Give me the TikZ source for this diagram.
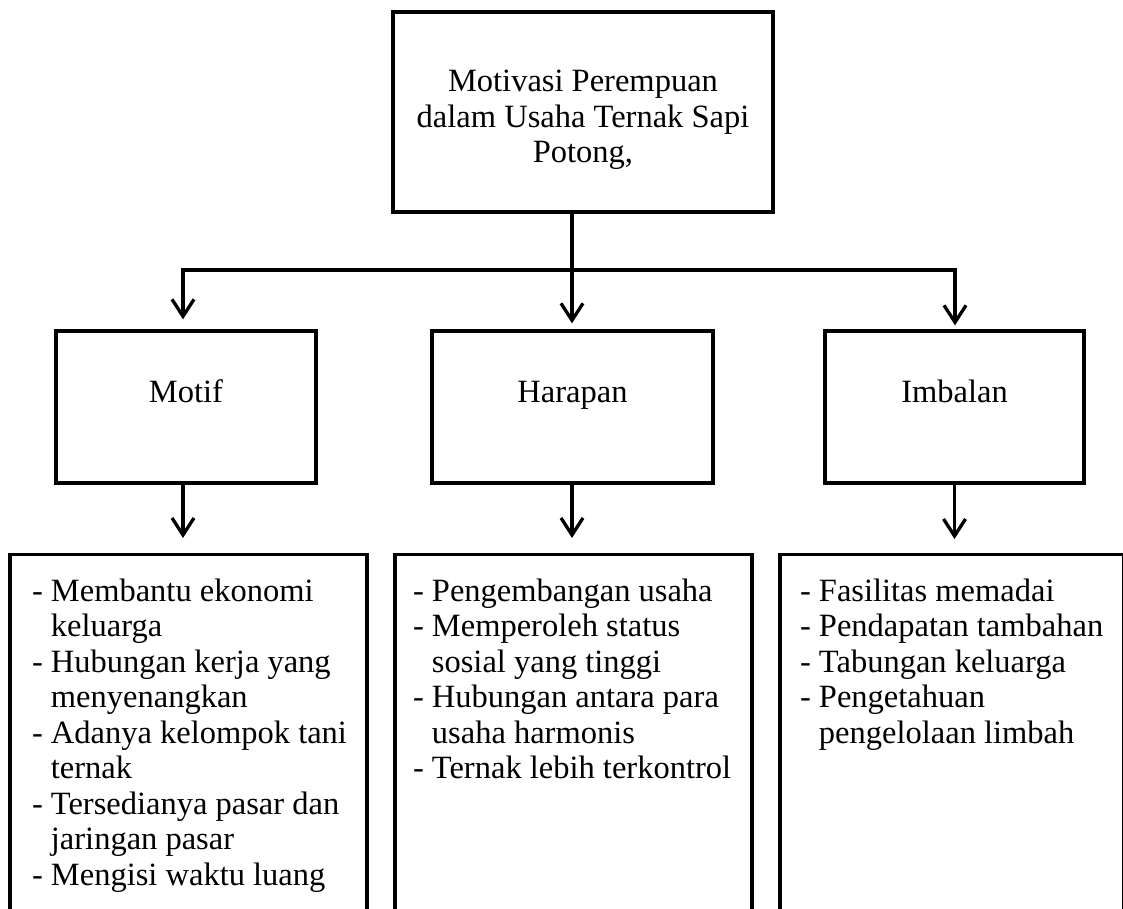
\documentclass[tikz,border=0pt]{standalone}
\usepackage{fontspec}
\setmainfont{Liberation Serif}
\usetikzlibrary{arrows.meta,positioning}

\begin{document}
\begin{tikzpicture}[x=1pt, y=-1pt, line width=3.3pt,
    main/.style = {draw, rectangle, align=center, inner sep=0pt, font=\fontsize{32.5}{35.5}\selectfont},
    sub/.style = {main, minimum height=152pt, text height=22pt, text depth=32pt},
    list/.style = {draw, rectangle, anchor=north, minimum width=357pt, minimum height=400pt, inner sep=0pt},
    items/.style = {align=left, inner sep=0pt, font=\fontsize{32.5}{35.5}\selectfont},
    arr/.style = {-{Straight Barb[length=17pt, width=22pt]}}]
      \useasboundingbox (0,0) rectangle (1123,908);
      \node[main, minimum width=380pt, minimum height=200pt] (motivasi) at (583,112) {\rule{0pt}{38pt}Motivasi Perempuan\\ dalam Usaha Ternak Sapi\\ Potong,};
      \node[sub, minimum width=260pt] (motif) at (186,407) {Motif};
      \node[sub, minimum width=281pt] (harapan) at (572.5,407) {Harapan};
      \node[sub, minimum width=259pt] (imbalan) at (954.5,407) {Imbalan};
      \node[list] (motifList) at (188.5,553) {};
      \node[list] (harapanList) at (573.5,553) {};
      \node[list, minimum width=344pt] (imbalanList) at (952,553) {};
      \node[items] (motifItems) [below right=24pt and 22pt of motifList.north west]
        {- Membantu ekonomi\\ \hphantom{- }keluarga\\ - Hubungan kerja yang\\ \hphantom{- }menyenangkan\\ - Adanya kelompok tani\\ \hphantom{- }ternak\\ - Tersedianya pasar dan\\ \hphantom{- }jaringan pasar\\ - Mengisi waktu luang};
      \node[items] (harapanItems) [below right=24pt and 18pt of harapanList.north west]
        {- Pengembangan usaha\\ - Memperoleh status\\ \hphantom{- }sosial yang tinggi\\ - Hubungan antara para\\ \hphantom{- }usaha harmonis\\ - Ternak lebih terkontrol};
      \node[items] (imbalanItems) [below right=24pt and 20pt of imbalanList.north west]
        {- Fasilitas memadai\\ - Pendapatan tambahan\\ - Tabungan keluarga\\ - Pengetahuan\\ \hphantom{- }pengelolaan limbah};
      \coordinate (split) at (572,270);
      \coordinate (left) at (183,270);
      \coordinate (right) at (955,270);
      \draw (motivasi.south -| split) -- (split);
      \draw[line cap=rect] (left) -- (right);
      \draw[arr, shorten >=10pt] (left) -- (left |- motif.north);
      \draw[arr, shorten >=6pt] (split) -- (split |- harapan.north);
      \draw[arr, shorten >=4pt] (right) -- (right |- imbalan.north);
      \draw[arr, shorten >=15pt] (left |- motif.south) -- (left |- motifList.north);
      \draw[arr, shorten >=15pt] (split |- harapan.south) -- (split |- harapanList.north);
      \draw[arr, shorten >=14pt] (imbalan.south) -- (imbalan.south |- imbalanList.north);
    \end{tikzpicture}
\end{document}
